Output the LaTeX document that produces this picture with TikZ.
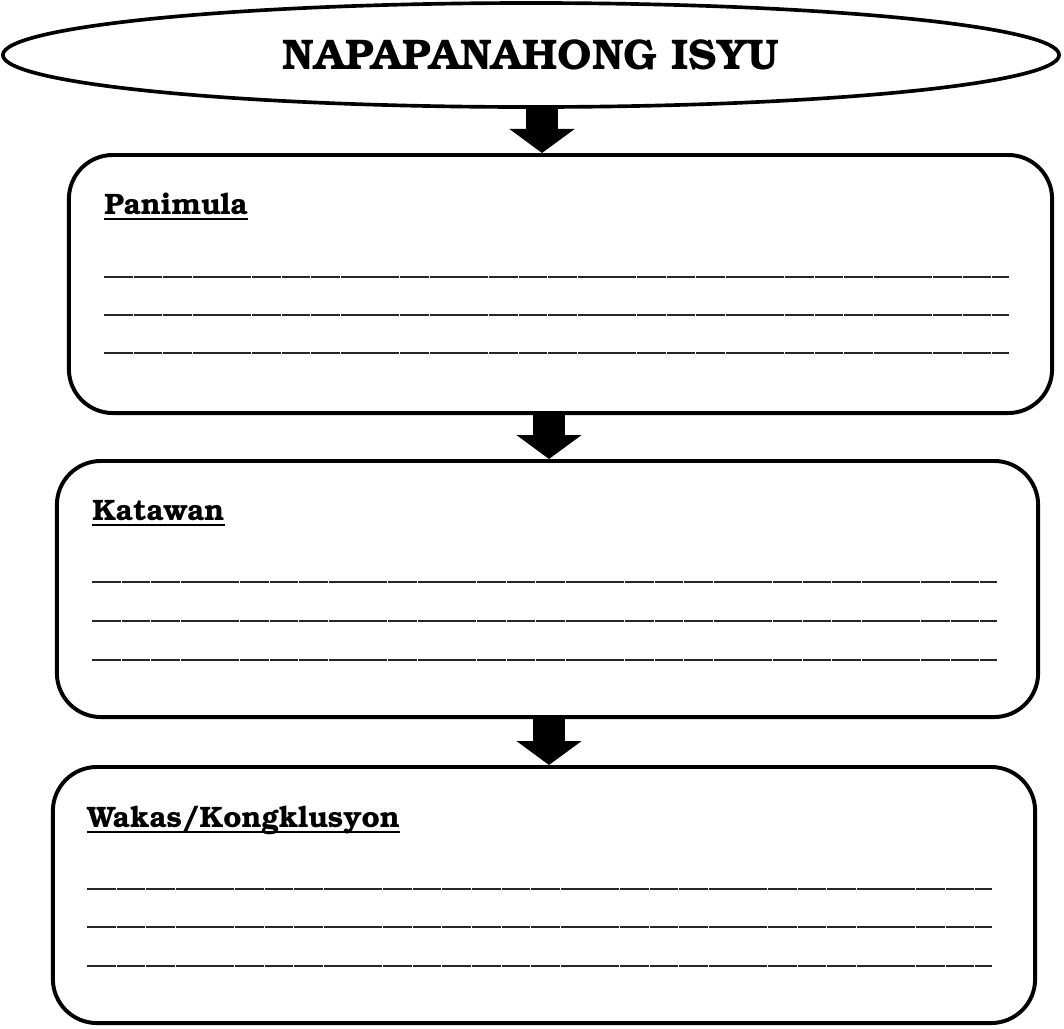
\documentclass[tikz,border=0pt]{standalone}
\usepackage[T1]{fontenc}
\usepackage{bookman}
\usetikzlibrary{shapes.geometric,arrows.meta}

\begin{document}
\begin{tikzpicture}[x=0.025cm, y=-0.025cm,
  title node/.style={ellipse,draw=black,line width=2.6pt,minimum width=26.4cm,minimum height=2.6cm,inner sep=0pt,font=\fontsize{30.5}{36}\selectfont\bfseries},
  box node/.style={rectangle,rounded corners=1.1cm,draw=black,line width=2.8pt,inner sep=0pt},
  head node/.style={anchor=base west,inner sep=0pt,font=\fontsize{21}{25}\selectfont\bfseries},
  under line/.style={line width=1.4pt},
  blank line/.style={draw=black!85,line width=1pt,dash pattern=on 0.72cm off 0.02cm},
  block arrow/.style={draw=black,line width=0.78cm,-{Triangle[width=1.6cm,length=0.6cm]}}]
\useasboundingbox (0,0) rectangle (1064,1028);
\begin{scope}
\node[title node] (title) at (531,55) {NAPAPANAHONG ISYU};
\node[box node,minimum width=24.575cm,minimum height=6.45cm] (b1) at (560.5,284) {};
\node[box node,minimum width=24.525cm,minimum height=6.4cm] (b2) at (547.5,589) {};
\node[box node,minimum width=24.55cm,minimum height=6.4cm] (b3) at (544,895) {};
\node[head node] (h1) at (104,214) {Panimula};
\node[head node] (h2) at (92,520) {Katawan};
\node[head node] (h3) at (87,827) {Wakas/Kongklusyon};
\end{scope}
% underlines of the headings
\foreach \h in {h1,h2,h3}
  \draw[under line] ([yshift=-0.12cm]\h.base west) -- ([yshift=-0.12cm]\h.base east);
% lines to write on
\foreach \y in {277,315,353} \draw[blank line] (104,\y) -- (1009,\y);
\foreach \y in {582,621,660} \draw[blank line] (92,\y) -- (997,\y);
\foreach \y in {889,927,966} \draw[blank line] (87,\y) -- (992,\y);
\coordinate (a1) at (542,0);
\coordinate (a2) at (549,0);
\begin{scope}
\draw[block arrow] (title.south -| a1) -- (b1.north -| a1);
\draw[block arrow] (b1.south -| a2) -- (b2.north -| a2);
\draw[block arrow] (b2.south -| a2) -- (b3.north -| a2);
\end{scope}
\end{tikzpicture}
\end{document}
